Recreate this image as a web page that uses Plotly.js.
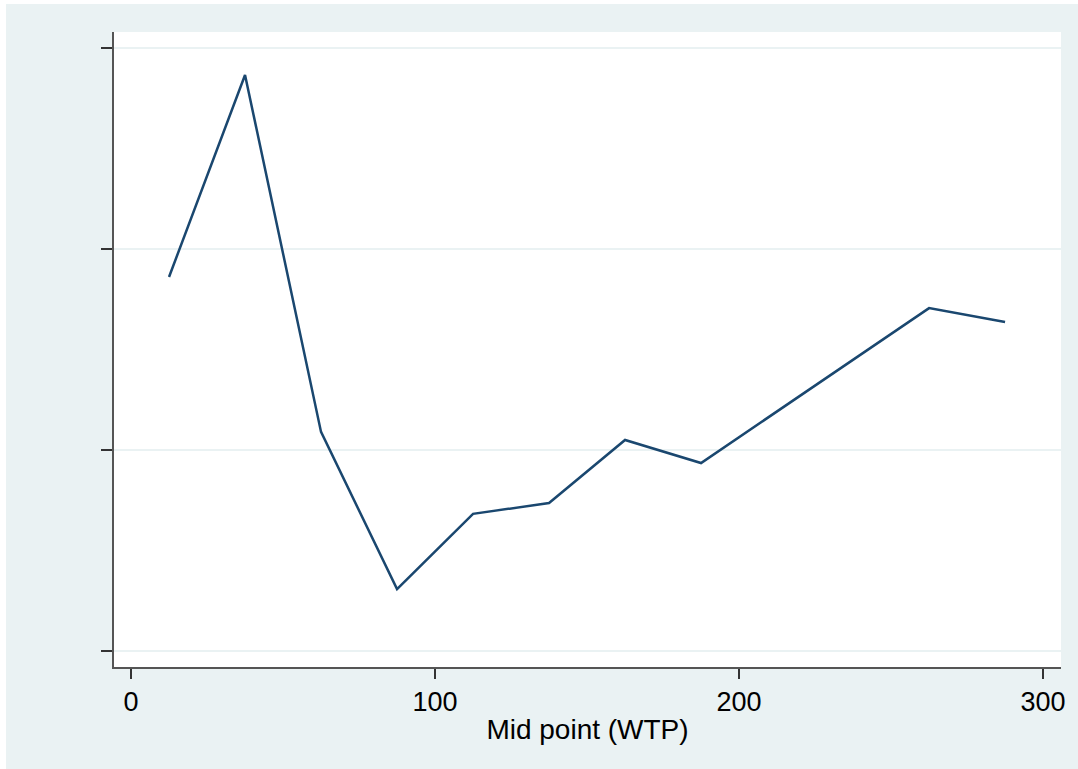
<!DOCTYPE html>
<html>
<head>
<meta charset="utf-8">
<script src="https://cdn.plot.ly/plotly-3.0.1.min.js"></script>
<style>
  html, body { margin: 0; padding: 0; background: #ffffff; width: 1078px; height: 769px; overflow: hidden; }
  #chart { position: absolute; left: 6px; top: 4px; width: 1072px; height: 765px; }
</style>
</head>
<body>
<div id="chart"></div>
<script>
// Mid point of WTP interval (x) and plotted value (y, unlabelled axis)
const midPoints = [12.5, 37.5, 62.5, 87.5, 112.5, 137.5, 162.5, 187.5, 262.5, 287.5];
const values    = [1.861, 2.866, 1.090, 0.308, 0.682, 0.736, 1.050, 0.935, 1.706, 1.637];
const xTicks = [0, 100, 200, 300];
const xTickLabels = ["0", "100", "200", "300"];
const yTicks = [0, 1, 2, 3];

const trace = {
  x: midPoints,
  y: values,
  type: "scatter",
  mode: "lines",
  line: { color: "#1a476f", width: 2.5 },
  hoverinfo: "x+y"
};

const layout = {
  width: 1072,
  height: 765,
  paper_bgcolor: "#EAF2F3",
  plot_bgcolor: "#ffffff",
  margin: { l: 108, r: 17, t: 28, b: 102 },
  showlegend: false,
  font: { family: "Liberation Sans, Arial, sans-serif", color: "#000000", size: 27 },
  xaxis: {
    range: [-5.6, 305.9],
    tickvals: xTicks,
    ticktext: xTickLabels,
    ticks: "outside",
    ticklen: 10,
    tickwidth: 1.3,
    tickcolor: "#333333",
    showgrid: false,
    zeroline: false,
    showline: true,
    linecolor: "#555555",
    linewidth: 1.6,
    tickfont: { size: 27, color: "#000000" },
    title: { text: "Mid point (WTP)", font: { size: 28, color: "#000000" }, standoff: 3 }
  },
  yaxis: {
    range: [-0.08, 3.08],
    tickvals: yTicks,
    ticks: "outside",
    ticklen: 11,
    tickwidth: 1.6,
    tickcolor: "#333333",
    showticklabels: false,
    showgrid: true,
    gridcolor: "#EAF2F3",
    gridwidth: 1.6,
    zeroline: false,
    showline: true,
    linecolor: "#555555",
    linewidth: 1.6
  }
};

Plotly.newPlot("chart", [trace], layout, { displayModeBar: false, staticPlot: true });
</script>
</body>
</html>
